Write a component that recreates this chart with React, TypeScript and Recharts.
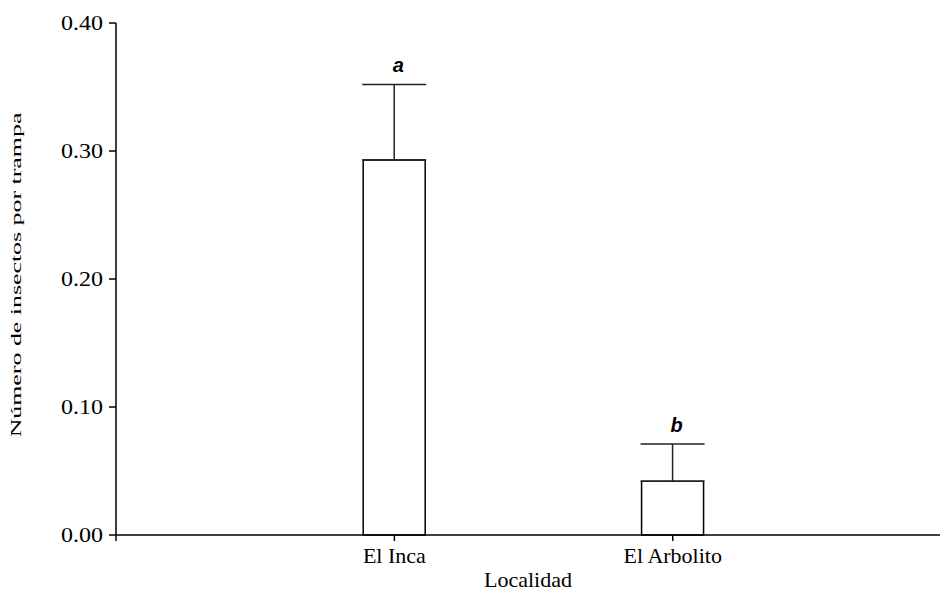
import React from "react";
import {
  ComposedChart,
  Bar,
  ErrorBar,
  LabelList,
  XAxis,
  YAxis,
} from "recharts";

const localidades = ["El Inca", "El Arbolito"];
const posiciones = [1, 2];
const medias = [0.293, 0.042];
const errores = [0.059, 0.029];
const letras = ["a", "b"];
const yTicks = [0, 0.1, 0.2, 0.3, 0.4];

const data = localidades.map((name, i) => ({
  pos: posiciones[i],
  name,
  media: medias[i],
  err: [0, errores[i]],
  letra: letras[i],
}));

const SERIF = "'Liberation Serif', 'Times New Roman', serif";

const renderLetra = (props: any) => {
  const { x, y, width, height, index, value } = props;
  const pxPerUnit = height / medias[index];
  const top = y - errores[index] * pxPerUnit;
  return (
    <text
      x={x + width / 2 + 4}
      y={top - 12}
      textAnchor="middle"
      fontFamily="'Liberation Sans', Arial, sans-serif"
      fontWeight="bold"
      fontStyle="italic"
      fontSize={20}
      fill="#000"
    >
      {value}
    </text>
  );
};

// y tick labels look a bit stretched sideways in the original
const YTick = ({ x, y, payload }: any) => (
  <text
    transform={`translate(${x}, ${y}) scale(1.2, 1)`}
    textAnchor="end"
    dy="0.35em"
    fontFamily={SERIF}
    fontSize={20}
    fill="#000"
  >
    {payload.value.toFixed(2)}
  </text>
);

const YLabel = ({ viewBox }: any) => {
  const cx = 21;
  const cy = viewBox.y + viewBox.height / 2 - 4;
  return (
    <text
      transform={`translate(${cx}, ${cy}) rotate(-90) scale(1.85, 1)`}
      textAnchor="middle"
      fontFamily={SERIF}
      fontSize={14}
      fill="#000"
    >
      Número de insectos por trampa
    </text>
  );
};

const XLabel = ({ viewBox }: any) => (
  <text
    x={viewBox.x + viewBox.width / 2}
    y={viewBox.y + 52}
    textAnchor="middle"
    fontFamily={SERIF}
    fontSize={22}
    fill="#000"
  >
    Localidad
  </text>
);

export default function App() {
  return (
    <div style={{ position: "absolute", left: 0, top: 0, background: "#fff" }}>
      <ComposedChart
        width={940}
        height={592}
        data={data}
        margin={{ top: 23, right: 0, left: 0, bottom: 0 }}
      >
        <XAxis
          dataKey="pos"
          type="number"
          domain={[0, 2.96]}
          ticks={[0, 1, 2]}
          tickFormatter={(v) => (v === 0 ? "" : localidades[v - 1])}
          height={57}
          tickSize={6}
          tickMargin={6}
          stroke="#000"
          strokeWidth={1.5}
          tick={{ fill: "#000", fontFamily: SERIF, fontSize: 22 }}
          label={{ content: <XLabel /> }}
          allowDataOverflow
        />
        <YAxis
          type="number"
          domain={[0, 0.4]}
          ticks={yTicks}
          width={116}
          tickSize={7}
          tickMargin={6}
          stroke="#000"
          strokeWidth={1.5}
          tick={<YTick />}
          label={{ content: <YLabel /> }}
        />
        <Bar
          dataKey="media"
          barSize={62}
          fill="#fff"
          stroke="#000"
          strokeWidth={1.5}
          isAnimationActive={false}
        >
          <ErrorBar
            dataKey="err"
            direction="y"
            width={32}
            stroke="#222"
            strokeWidth={1.5}
            isAnimationActive={false}
          />
          <LabelList dataKey="letra" content={renderLetra} />
        </Bar>
      </ComposedChart>
    </div>
  );
}
